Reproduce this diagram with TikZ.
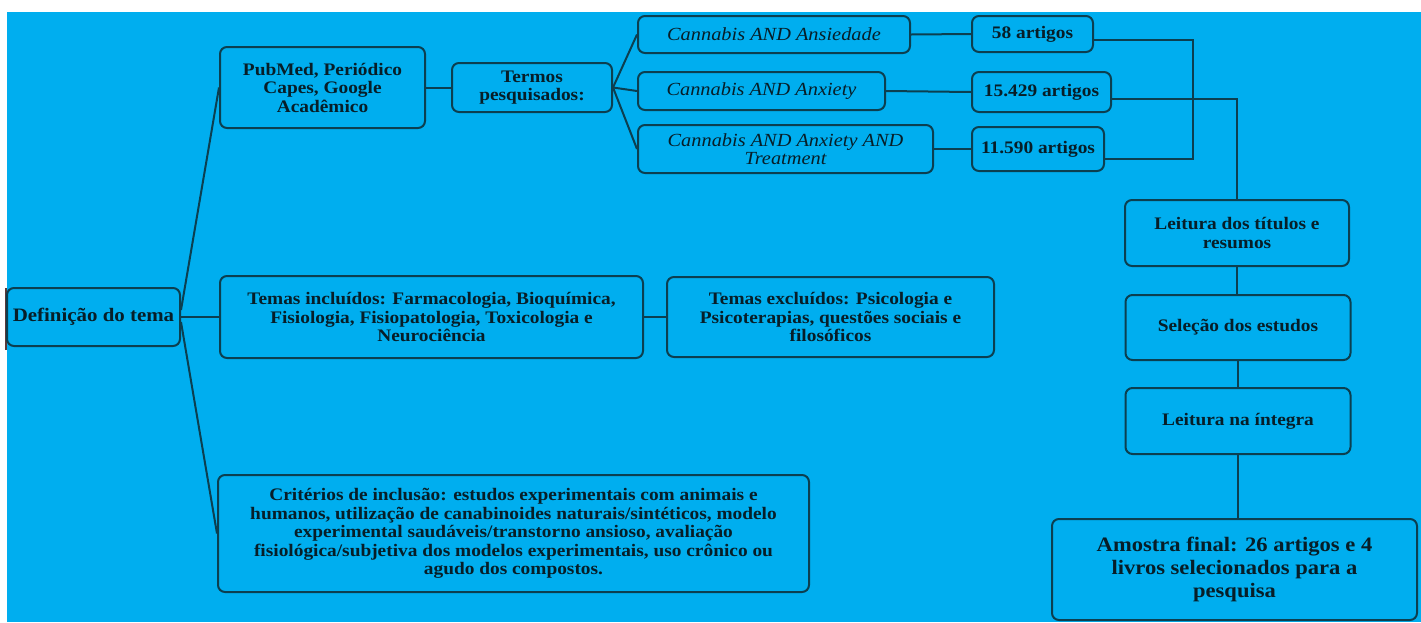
\documentclass[tikz,border=0pt]{standalone}
\usepackage{fontspec}
\setmainfont{Liberation Serif}[FakeStretch=1.1]
\definecolor{bg}{HTML}{00AEEF}
\definecolor{linec}{HTML}{0C3F50}
\definecolor{txt}{HTML}{071E28}
\definecolor{edge}{HTML}{5A3A3A}
\tikzset{
  box/.style={draw=linec, line width=2pt, rounded corners=7pt, fill=bg, align=center,
    inner sep=0pt, text=txt, font=\bfseries\fontsize{17.6}{18.5}\selectfont},
  ibox/.style={box, font=\itshape\fontsize{18.5}{18.5}\selectfont},
  conn/.style={draw=linec, line width=2pt}
}
\begin{document}
\begin{tikzpicture}[x=1pt,y=-1pt]
\useasboundingbox (0,0) rectangle (1421,622);
\fill[bg] (7,12) rectangle (1421,622);
\draw[edge, line width=2pt] (6,288) -- (6,350);

\node[box, font=\bfseries\fontsize{19}{20}\selectfont, minimum width=173pt, minimum height=58pt] (def) at (93.5,317) {Definição do tema};
\node[box, minimum width=205pt, minimum height=81pt] (pub) at (322.5,87.5) {PubMed, Periódico\\Capes, Google\\Acadêmico};
\node[box, minimum width=160pt, minimum height=49pt] (ter) at (532,87.5) {Termos\\pesquisados:};
\node[ibox, minimum width=272pt, minimum height=37pt] (c1) at (774,34.5) {Cannabis AND Ansiedade};
\node[ibox, minimum width=247pt, minimum height=38pt] (c2) at (761.5,91) {Cannabis AND Anxiety};
\node[ibox, minimum width=295pt, minimum height=48pt] (c3) at (785.5,149) {Cannabis AND Anxiety AND\\Treatment};
\node[box, minimum width=121pt, minimum height=36pt] (n1) at (1032.5,34) {58 artigos};
\node[box, minimum width=139pt, minimum height=40pt] (n2) at (1041.5,92) {15.429 artigos};
\node[box, minimum width=132pt, minimum height=44pt] (n3) at (1038,149) {11.590 artigos};
\node[box, minimum width=224pt, minimum height=66pt] (lei) at (1237,233) {Leitura dos títulos e\\resumos};
\node[box, minimum width=225pt, minimum height=65pt] (sel) at (1238,327.5) {Seleção dos estudos};
\node[box, minimum width=225pt, minimum height=66pt] (int) at (1238,421) {Leitura na íntegra};
\node[box, font=\bfseries\fontsize{20.5}{23.3}\selectfont, minimum width=365pt, minimum height=101pt] (amo) at (1234.5,569.5) {Amostra final: 26 artigos e 4\\livros selecionados para a\\pesquisa};
\node[box, minimum width=423pt, minimum height=82pt] (inc) at (431.5,317) {Temas incluídos: Farmacologia, Bioquímica,\\Fisiologia, Fisiopatologia, Toxicologia e\\Neurociência};
\node[box, minimum width=327pt, minimum height=80pt] (exc) at (830.5,317) {Temas excluídos: Psicologia e\\Psicoterapias, questões sociais e\\filosóficos};
\node[box, minimum width=591pt, minimum height=117pt] (cri) at (513.5,533.5) {Critérios de inclusão: estudos experimentais com animais e\\humanos, utilização de canabinoides naturais/sintéticos, modelo\\experimental saudáveis/transtorno ansioso, avaliação\\fisiológica/subjetiva dos modelos experimentais, uso crônico ou\\agudo dos compostos.};

\draw[conn] ([yshift=7pt]def.east) -- (pub.west);
\draw[conn] (def.east) -- (inc.west);
\draw[conn] ([yshift=-5pt]def.east) -- (cri.west);
\draw[conn] (pub.east) -- (ter.west);
\draw[conn] (ter.east) -- (c1.west);
\draw[conn] (ter.east) -- (c2.west);
\draw[conn] (ter.east) -- (c3.west);
\draw[conn] (c1.east) -- (n1.west);
\draw[conn] (c2.east) -- (n2.west);
\draw[conn] (c3.east) -- (n3.west);
\draw[conn] ([yshift=-6pt]n1.east) -- ++(99,0) |- ([yshift=-10pt]n3.east);
\draw[conn] ([yshift=-7pt]n2.east) -| (lei.north);
\draw[conn] (lei.south) -- (lei.south |- sel.north);
\draw[conn] (sel.south) -- (sel.south |- int.north);
\draw[conn] (int.south) -- (int.south |- amo.north);
\draw[conn] (inc.east) -- (exc.west);
\end{tikzpicture}
\end{document}
